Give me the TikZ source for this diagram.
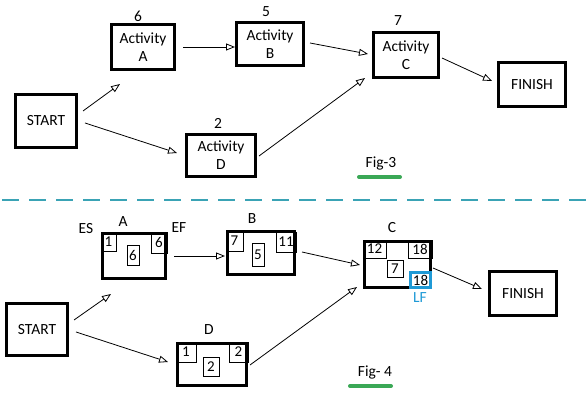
\documentclass[tikz,border=0pt]{standalone}
\usepackage{fontspec}
\setmainfont{Carlito}
\usetikzlibrary{arrows.meta,calc}
\definecolor{teal1}{HTML}{3AA3B5}
\definecolor{lfblue}{HTML}{1F9AD6}
\definecolor{figgreen}{HTML}{3AA856}
\begin{document}
\begin{tikzpicture}[x=1pt,y=-1pt,
  box/.style={draw,line width=3pt,rectangle,inner sep=0pt,align=center,font=\fontsize{15.5}{18}\selectfont},
  cell/.style={draw,line width=0.9pt,rectangle,inner sep=0pt,font=\fontsize{15}{17}\selectfont},
  lbl/.style={inner sep=0pt,font=\fontsize{15.5}{18}\selectfont},
  arr/.style={line width=0.8pt,-{Triangle[open,length=9pt,width=7pt]}},
  uline/.style={figgreen,line width=4pt,line cap=round}]
\path[use as bounding box] (0,0) rectangle (587,411);
% ---------- Fig-3 ----------
\node[box,minimum width=63,minimum height=45] (A3) at (143,47) {Activity\\A};
\node[box,minimum width=67,minimum height=43] (B3) at (270,44) {Activity\\B};
\node[box,minimum width=65,minimum height=45] (C3) at (406,55) {Activity\\C};
\node[box,minimum width=69,minimum height=42] (D3) at (221,155.5) {Activity\\D};
\node[box,minimum width=61,minimum height=53] (S3) at (46,121) {START};
\node[box,minimum width=67,minimum height=44] (F3) at (532,84.5) {FINISH};
\node[lbl] (lA3) at (138,16) {6};
\node[lbl] (lB3) at (266,12) {5};
\node[lbl] (lC3) at (398,21) {7};
\node[lbl] (lD3) at (218,123) {2};
\draw[arr] ($(S3.east)+(5,-10)$) -- ($(A3.south west)+(10,13)$);
\draw[arr] ($(S3.east)+(7,2)$) -- ($(D3.west)+(-8,-2.5)$);
\draw[arr] ($(A3.east)+(7,0)$) -- ($(B3.west)+(0,3)$);
\draw[arr] ($(B3.east)+(5,-1)$) -- ($(C3.west)+(-4,-1)$);
\draw[arr] ($(D3.east)+(2,0.5)$) -- ($(C3.south west)+(-7,-1)$);
\draw[arr] ($(C3.east)+(2,3)$) -- ($(F3.west)+(-5,-3.5)$);
\node[lbl] (fig3) at (381,164) {Fig-3};
\draw[uline] (359,177) -- (400,177);
% ---------- separator ----------
\draw[teal1,line width=1.3pt,dash pattern=on 17pt off 10pt] (2,200) -- (587,200);
% ---------- Fig-4 ----------
\node[box,minimum width=61,minimum height=52] (S4) at (37,329.5) {START};
\node[box,minimum width=63,minimum height=45] (A4) at (134,256) {};
\node[box,minimum width=67,minimum height=43] (B4) at (261,253) {};
\node[box,minimum width=69,minimum height=42] (D4) at (212,364.5) {};
\node[box,minimum width=66,minimum height=46] (C4) at (397.5,264.5) {};
\node[box,minimum width=67,minimum height=44] (F4) at (523,293.5) {FINISH};
% cells A
\node[cell,minimum width=15,minimum height=19] (a1) at (108.5,241.5) {1};
\node[cell,minimum width=16,minimum height=21] (a2) at (159,242.5) {6};
\node[cell,minimum width=12,minimum height=20] (a3) at (133,255) {6};
% cells B
\node[cell,minimum width=17,minimum height=21] (b1) at (234.5,240.5) {7};
\node[cell,minimum width=20,minimum height=20] (b2) at (286,242) {11};
\node[cell,minimum width=12,minimum height=23] (b3) at (258,254.5) {5};
% cells D
\node[cell,minimum width=20,minimum height=20] (d1) at (186,352) {1};
\node[cell,minimum width=19,minimum height=20] (d2) at (238.5,352) {2};
\node[cell,minimum width=16,minimum height=19] (d3) at (211,366.5) {2};
% cells C
\node[cell,minimum width=23,minimum height=18] (c1) at (374.5,249) {12};
\node[cell,minimum width=24,minimum height=18] (c2) at (420,249) {18};
\node[cell,minimum width=16,minimum height=17] (c3) at (395,268.5) {7};
\node[cell,draw=lfblue,line width=3pt,minimum width=20,minimum height=15] (c4) at (420.5,280) {18};
% labels
\node[lbl] (lA4) at (123,222) {A};
\node[lbl] (es) at (86,229) {ES};
\node[lbl] (ef) at (179,228) {EF};
\node[lbl] (lB4) at (252,219) {B};
\node[lbl] (lD4) at (209,330) {D};
\node[lbl] (lC4) at (392,228) {C};
\node[lbl,text=lfblue] (lf) at (420,298) {LF};
\draw[arr] ($(S4.east)+(5,-9.5)$) -- ($(A4.south west)+(10,14)$);
\draw[arr] ($(S4.east)+(7,2.5)$) -- ($(D4.west)+(-8,-2.5)$);
\draw[arr] ($(A4.east)+(7,0)$) -- ($(B4.west)+(-1,3)$);
\draw[arr] ($(B4.east)+(6,-1)$) -- ($(C4.west)+(-3,0.5)$);
\draw[arr] ($(D4.east)+(2,0.5)$) -- ($(C4.south west)+(-6,-2)$);
\draw[arr] ($(C4.east)+(1,3.5)$) -- ($(F4.west)+(-6,-4.5)$);
\node[lbl] (fig4) at (375,373) {Fig-\ 4};
\draw[uline] (350,386) -- (391,386);
\end{tikzpicture}
\end{document}
